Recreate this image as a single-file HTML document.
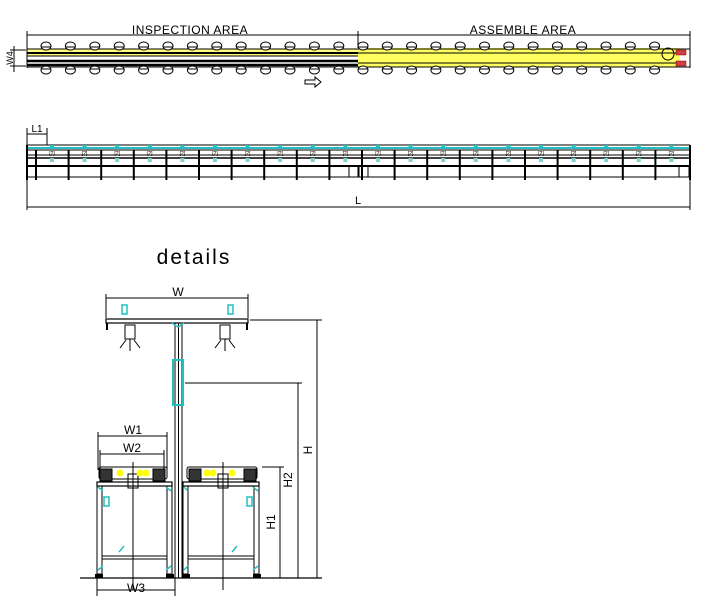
<!DOCTYPE html>
<html><head><meta charset="utf-8"><style>
html,body{margin:0;padding:0;background:#fff;}
svg{display:block;font-family:"Liberation Sans",sans-serif;}
</style></head><body>
<svg id="s" width="702" height="598" viewBox="0 0 702 598" xmlns="http://www.w3.org/2000/svg">
<rect width="702" height="598" fill="#fff"/>
<g stroke="#000" stroke-width="1" fill="none">
<!-- top dims -->
<line x1="27" y1="35" x2="690" y2="35"/>
<line x1="27" y1="31" x2="27" y2="48"/><line x1="358" y1="31" x2="358" y2="48"/><line x1="690" y1="31" x2="690" y2="48"/>
<!-- W4 -->
<line x1="14" y1="46" x2="14" y2="72"/><line x1="10" y1="50" x2="26" y2="50"/><line x1="10" y1="66" x2="26" y2="66"/>
</g>
<text x="190" y="34" font-size="12" text-anchor="middle" letter-spacing="0.5">INSPECTION AREA</text>
<text x="523" y="34" font-size="12" text-anchor="middle" letter-spacing="0.5">ASSEMBLE AREA</text>
<text x="13" y="58" font-size="9" text-anchor="middle" transform="rotate(-90 13 58)">W4</text>
<!-- rails -->
<rect x="27" y="49" width="331" height="7" fill="#ffff80"/>
<rect x="358" y="48" width="322" height="19" fill="#ffff60"/>
<g stroke="#000" fill="none">
<line x1="27" y1="49" x2="690" y2="49" stroke-width="1"/>
<line x1="27" y1="53" x2="358" y2="53" stroke-width="2"/>
<line x1="358" y1="53" x2="680" y2="53" stroke-width="1"/>
<line x1="27" y1="56" x2="358" y2="56"/>
<line x1="27" y1="61" x2="358" y2="61" stroke-width="2.5"/>
<line x1="27" y1="65" x2="358" y2="65" stroke-width="2.5"/>
<line x1="358" y1="63" x2="680" y2="63"/>
<line x1="27" y1="67" x2="690" y2="67"/>
<line x1="27" y1="48" x2="27" y2="68"/>
<line x1="690" y1="48" x2="690" y2="68"/>
<circle cx="668" cy="54" r="6"/>
<path d="M305 80h10v-3l6 5-6 5v-3h-10z"/>
</g>
<rect x="676" y="50" width="10" height="5" fill="#d04040" stroke="#800" stroke-width="0.5"/>
<rect x="676" y="61" width="10" height="5" fill="#d04040" stroke="#800" stroke-width="0.5"/>
<g id="rollers" stroke="#000" stroke-width="1" fill="#fff"></g>
<!-- side view -->
<g stroke="#000" fill="none">
<line x1="27" y1="145" x2="690" y2="145"/>
<line x1="27" y1="148" x2="690" y2="148" stroke="#20c0c0" stroke-width="2"/>
<line x1="27" y1="150" x2="690" y2="150"/>
<line x1="27" y1="155" x2="690" y2="155"/>
<line x1="27" y1="158" x2="690" y2="158" stroke-width="1.5"/>
<line x1="27" y1="166" x2="690" y2="166" stroke-width="2"/>
<line x1="27" y1="177" x2="690" y2="177"/>
<line x1="27" y1="145" x2="27" y2="180" stroke-width="2"/>
<line x1="690" y1="145" x2="690" y2="180" stroke-width="2"/>
<rect x="27" y="166" width="9" height="11"/><rect x="349" y="166" width="9" height="11"/><rect x="359" y="166" width="9" height="11"/><rect x="679" y="166" width="10" height="11"/>
<!-- L1 -->
<line x1="27" y1="134" x2="47" y2="134"/><line x1="27" y1="128" x2="27" y2="145"/><line x1="47" y1="128" x2="47" y2="145"/>
<!-- L -->
<line x1="27" y1="207" x2="690" y2="207"/><line x1="27" y1="180" x2="27" y2="210"/><line x1="690" y1="180" x2="690" y2="210"/>
</g>
<g id="posts"></g>
<text x="37" y="132" font-size="10" text-anchor="middle">L1</text>
<text x="358" y="204" font-size="11" text-anchor="middle">L</text>
<!-- details -->
<text x="194" y="264" font-size="21" text-anchor="middle" letter-spacing="2" font-weight="300">details</text>
<g stroke="#000" fill="none">
<line x1="106" y1="298" x2="248" y2="298"/><line x1="106" y1="294" x2="106" y2="318"/><line x1="248" y1="294" x2="248" y2="318"/>
<rect x="106" y="319" width="142" height="4" stroke-width="1.2"/>
<line x1="107" y1="323" x2="107" y2="330" stroke-width="2"/><line x1="247" y1="323" x2="247" y2="330" stroke-width="2"/>
<!-- hanging devices -->
<rect x="125" y="325" width="10" height="14"/><path d="M120 348l6-8M140 348l-6-8M130 339v12"/>
<rect x="220" y="325" width="10" height="14"/><path d="M215 348l6-8M235 348l-6-8M225 339v12"/>
<!-- post -->
<rect x="175" y="323" width="7" height="255"/>
<line x1="178.5" y1="323" x2="178.5" y2="578"/>
<rect x="173" y="360" width="10" height="45" stroke="#20c0c0" stroke-width="2"/>
<!-- dims -->
<line x1="250" y1="320" x2="322" y2="320"/><line x1="317" y1="320" x2="317" y2="578"/>
<line x1="185" y1="383" x2="302" y2="383"/><line x1="298" y1="383" x2="298" y2="578"/>
<line x1="262" y1="467" x2="284" y2="467"/><line x1="280" y1="467" x2="280" y2="578"/>
<line x1="80" y1="578" x2="322" y2="578" stroke-width="1.2"/>
<line x1="98" y1="436" x2="167" y2="436"/><line x1="98" y1="432" x2="98" y2="470"/><line x1="167" y1="432" x2="167" y2="470"/>
<line x1="100" y1="454" x2="164" y2="454"/><line x1="100" y1="450" x2="100" y2="470"/><line x1="164" y1="450" x2="164" y2="470"/>
<line x1="97" y1="590" x2="175" y2="590"/><line x1="97" y1="578" x2="97" y2="596"/><line x1="175" y1="578" x2="175" y2="596"/>
<!-- tables -->
<rect x="97" y="482" width="75" height="4" stroke-width="1.2"/>
<rect x="183" y="482" width="76" height="4" stroke-width="1.2"/>
<rect x="97" y="486" width="5" height="88"/><rect x="167" y="486" width="5" height="88"/>
<rect x="183" y="486" width="5" height="88"/><rect x="254" y="486" width="5" height="88"/>
<rect x="102" y="556" width="65" height="3"/><rect x="188" y="556" width="66" height="3"/>
<line x1="133" y1="462" x2="133" y2="590"/><line x1="223" y1="462" x2="223" y2="590"/>
<!-- conveyors -->
<rect x="99" y="467" width="68" height="12" rx="2"/>
<rect x="187" y="467" width="70" height="12" rx="2"/>
<rect x="100" y="469" width="12" height="12" fill="#333"/><rect x="153" y="469" width="12" height="12" fill="#333"/>
<rect x="189" y="469" width="12" height="12" fill="#333"/><rect x="244" y="469" width="12" height="12" fill="#333"/>
<rect x="128" y="474" width="10" height="14"/><rect x="218" y="474" width="10" height="14"/>
</g>
<g fill="#ffff00">
<circle cx="120" cy="473" r="3.5"/><circle cx="140" cy="473" r="3.5"/><circle cx="146" cy="473" r="3.5"/>
<circle cx="207" cy="473" r="3.5"/><circle cx="213" cy="473" r="3.5"/><circle cx="232" cy="473" r="3.5"/>
</g>
<g fill="none" stroke="#20c0c0" stroke-width="1.5">
<rect x="122" y="305" width="5" height="9"/><rect x="228" y="305" width="5" height="9"/>
<rect x="104" y="497" width="5" height="9"/><rect x="247" y="497" width="5" height="9"/>
<path d="M98 487l5 4M166 487l5 4M184 487l4 4M253 487l5 4M98 570l5-4M166 570l5-4M184 570l4-4M253 570l5-4M172 323l6 4 6-4"/>
<path d="M119 552l5-6M232 552l5-6"/>
</g>
<g fill="#000">
<rect x="95" y="574" width="8" height="4"/><rect x="166" y="574" width="8" height="4"/><rect x="182" y="574" width="8" height="4"/><rect x="253" y="574" width="8" height="4"/>
</g>
<text x="178" y="296" font-size="12" text-anchor="middle">W</text>
<text x="133" y="434" font-size="12" text-anchor="middle">W1</text>
<text x="132" y="452" font-size="12" text-anchor="middle">W2</text>
<text x="136" y="592" font-size="12" text-anchor="middle">W3</text>
<text x="312" y="450" font-size="12" text-anchor="middle" transform="rotate(-90 312 450)">H</text>
<text x="292" y="480" font-size="12" text-anchor="middle" transform="rotate(-90 292 480)">H2</text>
<text x="275" y="522" font-size="12" text-anchor="middle" transform="rotate(-90 275 522)">H1</text>
</svg>
<script>
var NS="http://www.w3.org/2000/svg",r=document.getElementById("rollers"),p=document.getElementById("posts");
function el(t,a,g){var e=document.createElementNS(NS,t);for(var k in a)e.setAttribute(k,a[k]);g.appendChild(e);return e;}
function roll(x){el("ellipse",{cx:x,cy:46,rx:5,ry:4},r);el("line",{x1:x-5,y1:47,x2:x+5,y2:47},r);
el("ellipse",{cx:x,cy:70,rx:5,ry:4},r);el("line",{x1:x-5,y1:69,x2:x+5,y2:69},r);}
for(var i=0;i<13;i++)roll(46+i*24.4);
for(i=0;i<13;i++)roll(363+i*24.3);
for(i=0;i<20;i++){var x=36+i*32.6; if(x>680)break;
el("line",{x1:x,y1:150,x2:x,y2:180,stroke:"#000","stroke-width":2},p);
el("rect",{x:x+14,y:145,width:4,height:2,fill:"#20c0c0"},p);
el("rect",{x:x+14,y:158,width:4,height:4,fill:"#80d0d0"},p);
el("text",{x:x+16,y:155,"font-size":5,"text-anchor":"middle"},p).textContent="[2]";}
</script>
</body></html>
